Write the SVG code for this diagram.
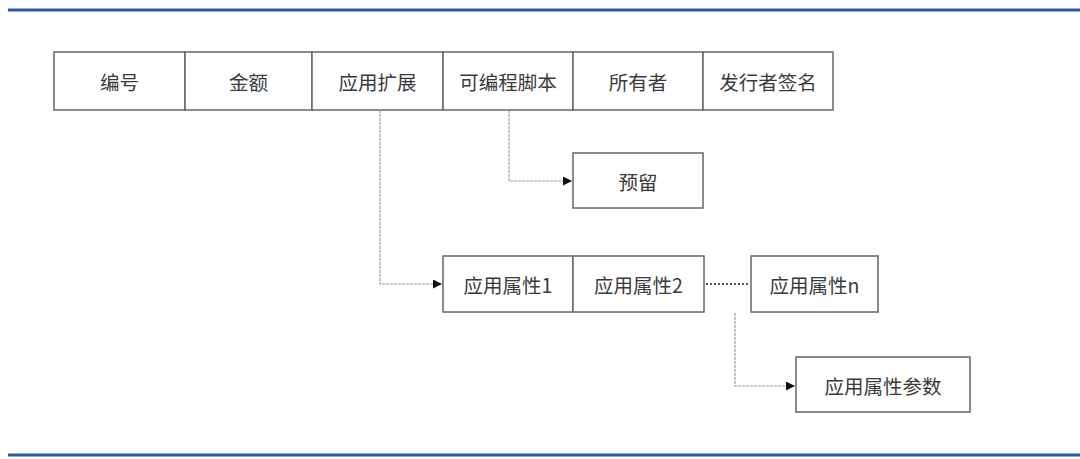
<svg xmlns="http://www.w3.org/2000/svg" width="1080" height="459" viewBox="0 0 1080 459">
<style>
.box{fill:#fff;stroke:#666;stroke-width:1.5}
.t{font-family:"Noto Sans CJK SC","Liberation Sans",sans-serif;font-size:19.5px;fill:#3a3a3a;text-anchor:middle;dominant-baseline:central}
.c{fill:none;stroke:#999;stroke-width:1.2;stroke-dasharray:3 1}
.d{fill:none;stroke:#222;stroke-width:1.5;stroke-dasharray:2 2}
.rule{stroke:#2a5ba8;stroke-width:3}
</style>
<defs>
<marker id="ah" viewBox="0 0 10 10" refX="10" refY="5" markerWidth="9" markerHeight="9" markerUnits="userSpaceOnUse" orient="auto">
<path d="M0,0 L10,5 L0,10 z" fill="#111"/>
</marker>
</defs>
<rect width="1080" height="459" fill="#fff"/>
<line class="rule" x1="8" y1="10" x2="1080" y2="10"/>
<line class="rule" x1="8" y1="455" x2="1080" y2="455"/>
<g id="n-bianhao"><rect class="box" x="54" y="52" width="131" height="58"/><text class="t" x="119.5" y="81">编号</text></g>
<g id="n-jine"><rect class="box" x="185" y="52" width="127" height="58"/><text class="t" x="248.5" y="81">金额</text></g>
<g id="n-yykz"><rect class="box" x="312" y="52" width="131" height="58"/><text class="t" x="377.5" y="81">应用扩展</text></g>
<g id="n-kbcjb"><rect class="box" x="443" y="52" width="130" height="58"/><text class="t" x="508" y="81">可编程脚本</text></g>
<g id="n-syz"><rect class="box" x="573" y="52" width="130" height="58"/><text class="t" x="638" y="81">所有者</text></g>
<g id="n-fxzqm"><rect class="box" x="703" y="52" width="130" height="58"/><text class="t" x="768" y="81">发行者签名</text></g>
<g id="n-yuliu"><rect class="box" x="573" y="153" width="130" height="55"/><text class="t" x="638" y="181">预留</text></g>
<g id="n-sx1"><rect class="box" x="443" y="256" width="130" height="56"/><text class="t" x="508" y="284">应用属性1</text></g>
<g id="n-sx2"><rect class="box" x="573" y="256" width="131" height="56"/><text class="t" x="638.5" y="284">应用属性2</text></g>
<g id="n-sxn"><rect class="box" x="751" y="256" width="127" height="56"/><text class="t" x="814.5" y="284">应用属性n</text></g>
<g id="n-sxcs"><rect class="box" x="796" y="357" width="174" height="55"/><text class="t" x="883" y="385">应用属性参数</text></g>
<g id="connectors">
<path class="c" d="M509,110 V181 H572" marker-end="url(#ah)"/>
<path class="c" d="M380,110 V284 H442" marker-end="url(#ah)"/>
<path class="c" d="M735,313 V386 H795" marker-end="url(#ah)"/>
<line class="d" x1="706" y1="284" x2="750" y2="284"/>
</g>
</svg>
